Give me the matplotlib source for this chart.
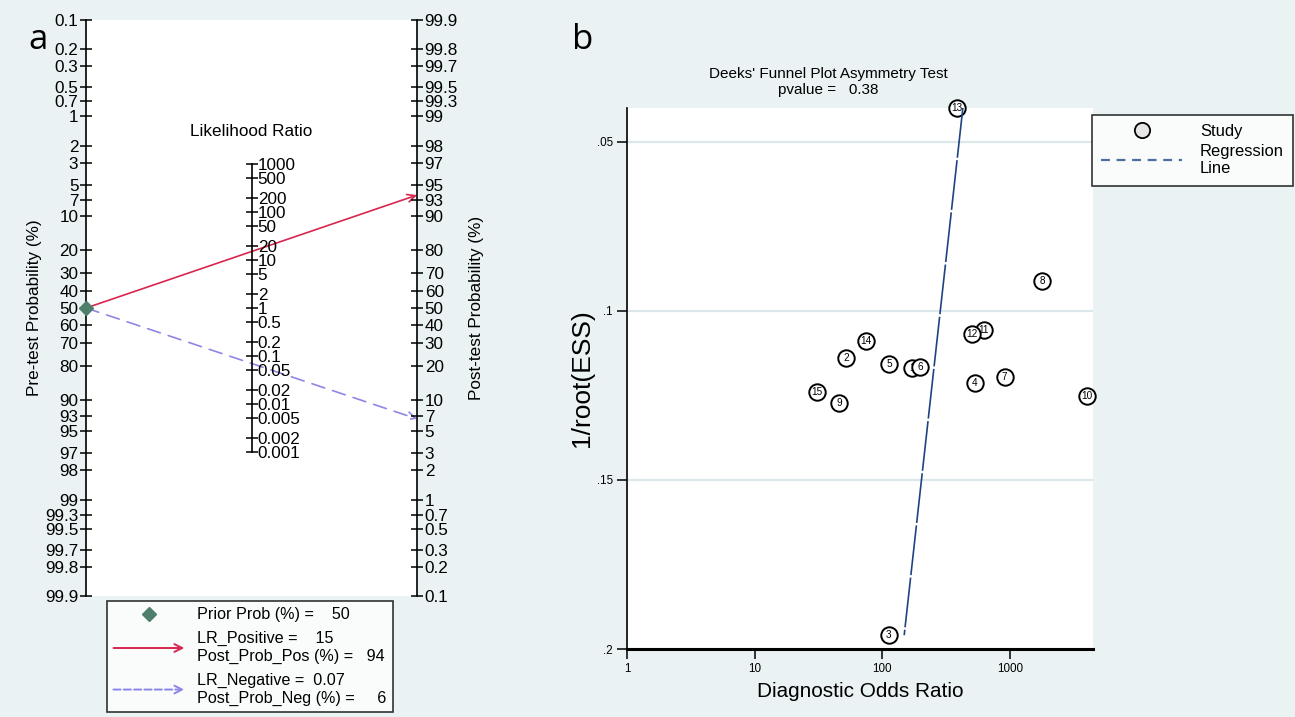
import numpy as np
import matplotlib
matplotlib.use("Agg")
import matplotlib.pyplot as plt
from matplotlib.lines import Line2D
from matplotlib.patches import FancyArrowPatch
from matplotlib.legend_handler import HandlerBase
from matplotlib import font_manager

# ---------------- data ----------------
# Panel a: Fagan nomogram
prior_prob = 50.0
lr_positive = 15.0
lr_negative = 0.07
post_prob_pos_label = 94
post_prob_neg_label = 6
pre_ticks = [0.1, 0.2, 0.3, 0.5, 0.7, 1, 2, 3, 5, 7, 10, 20, 30, 40, 50, 60, 70,
             80, 90, 93, 95, 97, 98, 99, 99.3, 99.5, 99.7, 99.8, 99.9]
post_ticks = [99.9, 99.8, 99.7, 99.5, 99.3, 99, 98, 97, 95, 93, 90, 80, 70, 60, 50,
              40, 30, 20, 10, 7, 5, 3, 2, 1, 0.7, 0.5, 0.3, 0.2, 0.1]
lr_ticks = [1000, 500, 200, 100, 50, 20, 10, 5, 2, 1, 0.5, 0.2, 0.1, 0.05, 0.02,
            0.01, 0.005, 0.002, 0.001]

# Panel b: Deeks' funnel plot
study_id = [1, 2, 3, 4, 5, 6, 7, 8, 9, 10, 11, 12, 13, 14, 15]
study_dor = [172, 52, 113, 530, 113, 199, 914, 1790, 46, 4040, 624, 504, 389, 75, 31]
study_inv_root_ess = [0.1169, 0.1139, 0.1959, 0.1213, 0.1157, 0.1166, 0.1195, 0.0911,
                      0.1272, 0.1251, 0.1056, 0.1068, 0.0400, 0.1089, 0.1240]
reg_intercept = 2.751   # log10(DOR) at 1/root(ESS) = 0
reg_slope = -2.95       # change in log10(DOR) per unit 1/root(ESS)
p_value = 0.38
b_xticks = [1, 10, 100, 1000]
b_yticks = [0.05, 0.1, 0.15, 0.2]


def has_font(name):
    try:
        font_manager.findfont(font_manager.FontProperties(family=name),
                              fallback_to_default=False)
        return True
    except Exception:
        return False


SANS = "Liberation Sans" if has_font("Liberation Sans") else "DejaVu Sans"
HAS_NARROW = has_font("Liberation Sans Narrow")
NARROW = "Liberation Sans Narrow" if HAS_NARROW else SANS
NS = 1.0 if HAS_NARROW else 0.88   # shrink factor to mimic a narrow face
plt.rcParams["font.family"] = [SANS, "DejaVu Sans"]

BG = "#eaf2f3"
RED = "#d8264e"
LAV = "#8d86e6"
DIAM = "#4e7f6b"
NAVY = "#1f4382"

W, H = 1295, 717
fig = plt.figure(figsize=(W / 100, H / 100), dpi=100, facecolor=BG)


def logit(p):
    return np.log(p / (100.0 - p))


def fmt(v):
    return "{:g}".format(v)


FS_A = 12.3

# ---------------- panel a ----------------
U = logit(99.9)
ax = fig.add_axes([86 / W, 1 - 596 / H, (417 - 86) / W, (596 - 20) / H])
ax.set_facecolor("white")
ax.set_xlim(0, 1)
ax.set_ylim(-U, U)
for s in ["top", "bottom", "right"]:
    ax.spines[s].set_visible(False)
ax.spines["left"].set_linewidth(1.2)
ax.set_xticks([])
ax.set_yticks([-logit(p) for p in pre_ticks])
ax.set_yticklabels([fmt(p) for p in pre_ticks])
ax.tick_params(axis="y", direction="inout", length=8, width=1.1, labelsize=FS_A, pad=1.5)
ax.set_ylabel("Pre-test Probability (%)", fontsize=FS_A, labelpad=2)

axr = ax.twinx()
axr.set_ylim(-U, U)
for s in ["top", "bottom", "left"]:
    axr.spines[s].set_visible(False)
axr.spines["right"].set_linewidth(1.2)
axr.set_yticks([logit(p) for p in post_ticks])
axr.set_yticklabels([fmt(p) for p in post_ticks])
axr.tick_params(axis="y", direction="inout", length=8, width=1.1, labelsize=FS_A, pad=1.5)
axr.set_ylabel("Post-test Probability (%)", fontsize=FS_A, rotation=90, labelpad=8)

axl = ax.twinx()
axl.set_ylim(-U, U)
for s in ["top", "bottom", "left"]:
    axl.spines[s].set_visible(False)
axl.spines["right"].set_position(("axes", 0.5))
axl.spines["right"].set_linewidth(1.2)
axl.spines["right"].set_bounds(np.log(min(lr_ticks)) / 2, np.log(max(lr_ticks)) / 2)
axl.set_yticks([np.log(v) / 2 for v in lr_ticks])
axl.set_yticklabels([fmt(v) for v in lr_ticks])
axl.tick_params(axis="y", direction="inout", length=8, width=1.1, labelsize=FS_A, pad=0.5)
ax.text(0.5, 1 - (131 - 20) / 576, "Likelihood Ratio", transform=ax.transAxes,
        ha="center", va="center", fontsize=FS_A)

u_pre = -logit(prior_prob)
u_post_pos = logit(prior_prob) + np.log(lr_positive)
u_post_neg = logit(prior_prob) + np.log(lr_negative)
ax.annotate("", xy=(1, u_post_pos), xytext=(0, u_pre), annotation_clip=False,
            arrowprops=dict(arrowstyle="->", color=RED, lw=1.2, shrinkA=0, shrinkB=0,
                            mutation_scale=14), zorder=4)
ax.annotate("", xy=(1, u_post_neg), xytext=(0, u_pre), annotation_clip=False,
            arrowprops=dict(arrowstyle="->", color=LAV, lw=1.2, shrinkA=0, shrinkB=0,
                            linestyle=(0, (8, 5)), mutation_scale=14), zorder=4)
ax.plot([0], [u_pre], marker="D", ms=7, color=DIAM, clip_on=False, zorder=5, ls="none")


class ArrowHandler(HandlerBase):
    def create_artists(self, legend, orig_handle, xdescent, ydescent, width, height,
                       fontsize, trans):
        y = height / 2 - ydescent
        arr = FancyArrowPatch((-xdescent, y), (width - xdescent, y), arrowstyle="->",
                              mutation_scale=14, color=orig_handle.get_color(),
                              lw=1.4, linestyle=orig_handle.get_linestyle(),
                              shrinkA=0, shrinkB=0, transform=trans)
        return [arr]


h_prior = Line2D([], [], marker="D", ms=7, color=DIAM, ls="none")
h_pos = Line2D([], [], color=RED, ls="-")
h_neg = Line2D([], [], color=LAV, ls=(0, (4, 3)))
labels_a = [
    "Prior Prob (%) =    {:g}".format(prior_prob),
    "LR_Positive =    {:g}\nPost_Prob_Pos (%) =   {:d}".format(lr_positive, post_prob_pos_label),
    "LR_Negative =  {:g}\nPost_Prob_Neg (%) =     {:d}".format(lr_negative, post_prob_neg_label),
]
leg_a = fig.legend([h_prior, h_pos, h_neg], labels_a,
                   handler_map={h_pos: ArrowHandler(), h_neg: ArrowHandler()},
                   loc="upper left", bbox_to_anchor=(107 / W, 1 - 601 / H),
                   borderaxespad=0, frameon=True, fancybox=False, fontsize=11.6,
                   handlelength=4.4, handletextpad=0.8, labelspacing=0.55,
                   borderpad=0.4)
leg_a.get_frame().set_edgecolor("black")
leg_a.get_frame().set_linewidth(1.2)
leg_a.get_frame().set_facecolor("white")

fig.text(38 / W, 1 - 40 / H, "a", fontsize=25, ha="center", va="center",
         family=["Open Sans", "DejaVu Sans"])

# ---------------- panel b ----------------
bx = fig.add_axes([627 / W, 1 - 649 / H, (1093 - 627) / W, (649 - 108) / H])
bx.set_facecolor("white")
bx.set_xscale("log")
bx.set_xlim(1, 4500)
bx.set_ylim(0.2, 0.04)
bx.set_yticks(b_yticks)
bx.set_yticklabels([fmt(v).lstrip("0") for v in b_yticks], family=NARROW)
bx.set_xticks(b_xticks)
bx.set_xticklabels([fmt(v) for v in b_xticks], family=NARROW)
bx.xaxis.set_minor_locator(matplotlib.ticker.NullLocator())
bx.tick_params(axis="both", direction="out", length=7, width=1.1, labelsize=9.5 * NS, pad=3)
for s in ["top", "right"]:
    bx.spines[s].set_visible(False)
bx.spines["left"].set_linewidth(1.2)
bx.spines["bottom"].set_linewidth(2.2)
bx.yaxis.grid(True, color="#dbe7eb", lw=1.6)
bx.set_axisbelow(True)
bx.set_xlabel("Diagnostic Odds Ratio", fontsize=17 * NS, family=NARROW, labelpad=5)
bx.set_ylabel("1/root(ESS)", fontsize=19, labelpad=2)

for i, (sid, xv, yv) in enumerate(zip(study_id, study_dor, study_inv_root_ess)):
    bx.scatter([xv], [yv], s=140, facecolor="white", edgecolor="black", lw=1.4,
               zorder=5 + 2 * i, clip_on=False)
    bx.text(xv, yv, str(sid), ha="center", va="center", fontsize=8.2 * NS,
            family=NARROW, zorder=6 + 2 * i, clip_on=False)

yr = np.array([min(study_inv_root_ess), max(study_inv_root_ess)])
bx.plot(10 ** (reg_intercept + reg_slope * yr), yr, color=NAVY, lw=1.2,
        ls=(0, (30, 1.5)), zorder=40)

fig.text(828 / W, 1 - 74 / H, "Deeks' Funnel Plot Asymmetry Test", ha="center",
         va="center", fontsize=12.5 * NS, family=NARROW)
fig.text(828 / W, 1 - 90 / H, "pvalue =   {:.2f}".format(p_value), ha="center",
         va="center", fontsize=12.5 * NS, family=NARROW)

h_study = Line2D([], [], marker="o", ls="none", ms=11, markerfacecolor="#e6e6e6",
                 markeredgecolor="black", markeredgewidth=1.3)
h_reg = Line2D([], [], color="#4a6fa0", lw=1.6, ls=(0, (4, 3)))
leg_b = fig.legend([h_study, h_reg], ["Study", "Regression\nLine"],
                   loc="upper left", bbox_to_anchor=(1092 / W, 1 - 115 / H),
                   borderaxespad=0, frameon=True, fancybox=False,
                   prop=dict(family=NARROW, size=13.5 * NS), handlelength=4.9,
                   handletextpad=1.1, labelspacing=0.3, borderpad=0.55)
leg_b.get_frame().set_edgecolor("black")
leg_b.get_frame().set_linewidth(1.2)
leg_b.get_frame().set_facecolor("white")

fig.text(583 / W, 1 - 40 / H, "b", fontsize=25, ha="center", va="center",
         family=["Open Sans", "DejaVu Sans"])

fig.savefig("out.png", dpi=100, facecolor=BG)
